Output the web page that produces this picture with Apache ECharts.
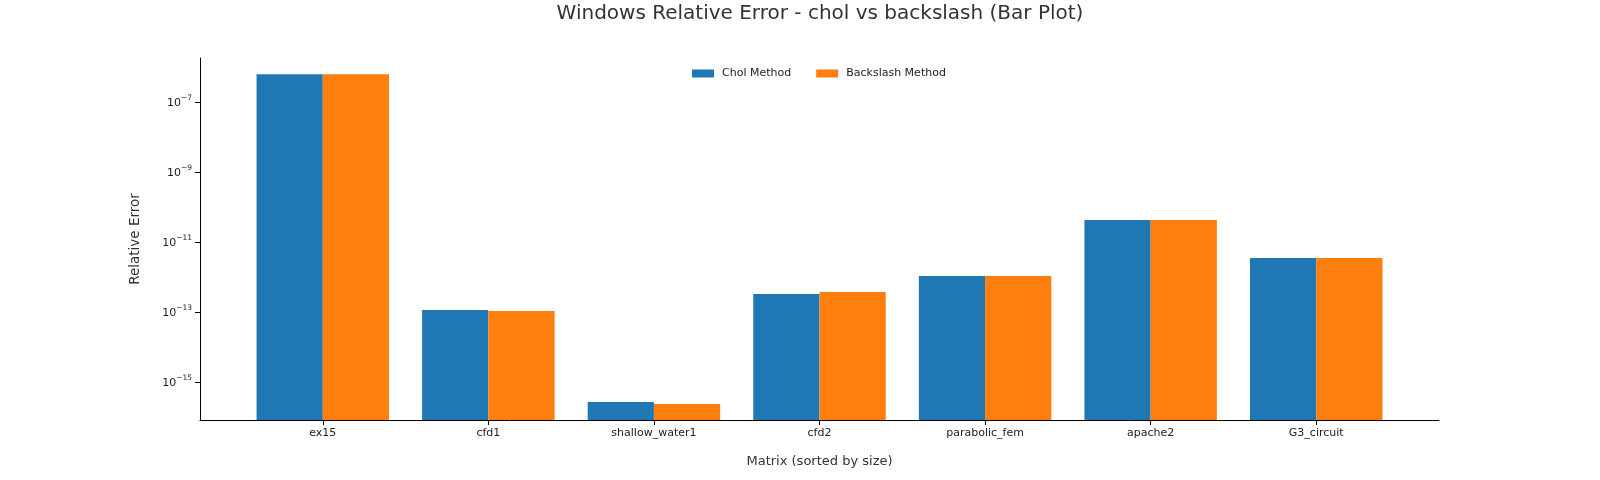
<!DOCTYPE html>
<html><head><meta charset="utf-8">
<script src="https://cdn.jsdelivr.net/npm/echarts@6/dist/echarts.min.js"></script>
<style>html,body{margin:0;padding:0;background:#fff}#c{width:1600px;height:480px}</style>
</head><body><div id="c"></div>
<script>
const categories = ['ex15', 'cfd1', 'shallow_water1', 'cfd2', 'parabolic_fem', 'apache2', 'G3_circuit'];
const cholValues = [6.4e-7, 1.16e-13, 2.74e-16, 3.33e-13, 1.09e-12, 4.34e-11, 3.56e-12];
const backslashValues = [6.4e-7, 1.09e-13, 2.40e-16, 3.80e-13, 1.09e-12, 4.34e-11, 3.56e-12];
const yTickValues = [1e-15, 1e-13, 1e-11, 1e-9, 1e-7];
const yMin = 8.37e-17;
const yMax = 1.85e-6;

function fmtPow(v) {
  const e = Math.round(Math.log10(v));
  return '{b|10}{s|' + String(e).replace('-', '\u2212') + '}';
}

const chart = echarts.init(document.getElementById('c'), null, {renderer: 'canvas'});
const FONT = 'DejaVu Sans';
chart.setOption({
  animation: false,
  backgroundColor: '#fff',
  textStyle: {fontFamily: FONT},
  title: {
    text: 'Windows Relative Error - chol vs backslash (Bar Plot)',
    left: 820, top: 4, padding: 0, textAlign: 'center',
    textStyle: {fontFamily: FONT, fontSize: 20, fontWeight: 'normal', color: '#333'}
  },
  legend: {
    data: ['Chol Method', 'Backslash Method'],
    left: 692, top: 68, padding: 0,
    itemWidth: 22, itemHeight: 8, itemGap: 25, icon: 'rect',
    textStyle: {fontFamily: FONT, fontSize: 11, color: '#222', padding: [0, 0, 0, 3]}
  },
  grid: [
    {left: 200, right: 161, top: 58, bottom: 60, outerBoundsMode: 'none'},
    {left: 240, width: 1159, top: 58, bottom: 60, outerBoundsMode: 'none'}
  ],
  xAxis: [
    {
      type: 'value', gridIndex: 0, min: 0, max: 1,
      axisLine: {show: true, lineStyle: {color: '#000', width: 1}},
      axisTick: {show: false}, axisLabel: {show: false}, splitLine: {show: false},
      name: 'Matrix (sorted by size)', nameLocation: 'middle', nameGap: 35,
      nameTextStyle: {fontFamily: FONT, fontSize: 13, color: '#333'}
    },
    {
      type: 'category', gridIndex: 1, data: categories,
      axisLine: {show: false},
      axisTick: {show: true, alignWithLabel: true, length: 5, lineStyle: {color: '#000'}},
      axisLabel: {fontFamily: FONT, fontSize: 11, color: '#222', margin: 8},
      splitLine: {show: false}
    }
  ],
  yAxis: [
    {
      type: 'log', gridIndex: 0, min: yMin, max: yMax,
      axisLine: {show: true, lineStyle: {color: '#000', width: 1}},
      axisTick: {show: true, length: 5, lineStyle: {color: '#000'}, customValues: yTickValues},
      axisLabel: {
        fontFamily: FONT, color: '#222', margin: 8, customValues: yTickValues, formatter: fmtPow,
        rich: {
          b: {fontFamily: FONT, fontSize: 11, color: '#222', lineHeight: 17, padding: [2, 0, 0, 0]},
          s: {fontFamily: FONT, fontSize: 7.5, color: '#222', lineHeight: 9, verticalAlign: 'top'}
        }
      },
      minorTick: {show: false},
      splitLine: {show: false},
      name: 'Relative Error', nameLocation: 'middle', nameGap: 58,
      nameTextStyle: {fontFamily: FONT, fontSize: 13.5, color: '#333', padding: [0, 0, 0, 0]}
    },
    {
      type: 'log', gridIndex: 1, min: yMin, max: yMax, startValue: yMin,
      axisLine: {show: false}, axisTick: {show: false}, axisLabel: {show: false}, splitLine: {show: false}
    }
  ],
  series: [
    {
      name: 'Chol Method', type: 'bar', xAxisIndex: 1, yAxisIndex: 1,
      data: cholValues, barWidth: '40%', barGap: '0%',
      itemStyle: {color: '#1f77b4'}
    },
    {
      name: 'Backslash Method', type: 'bar', xAxisIndex: 1, yAxisIndex: 1,
      data: backslashValues, barWidth: '40%', barGap: '0%',
      itemStyle: {color: '#ff7f0e'}
    }
  ]
});
</script>
</body></html>
